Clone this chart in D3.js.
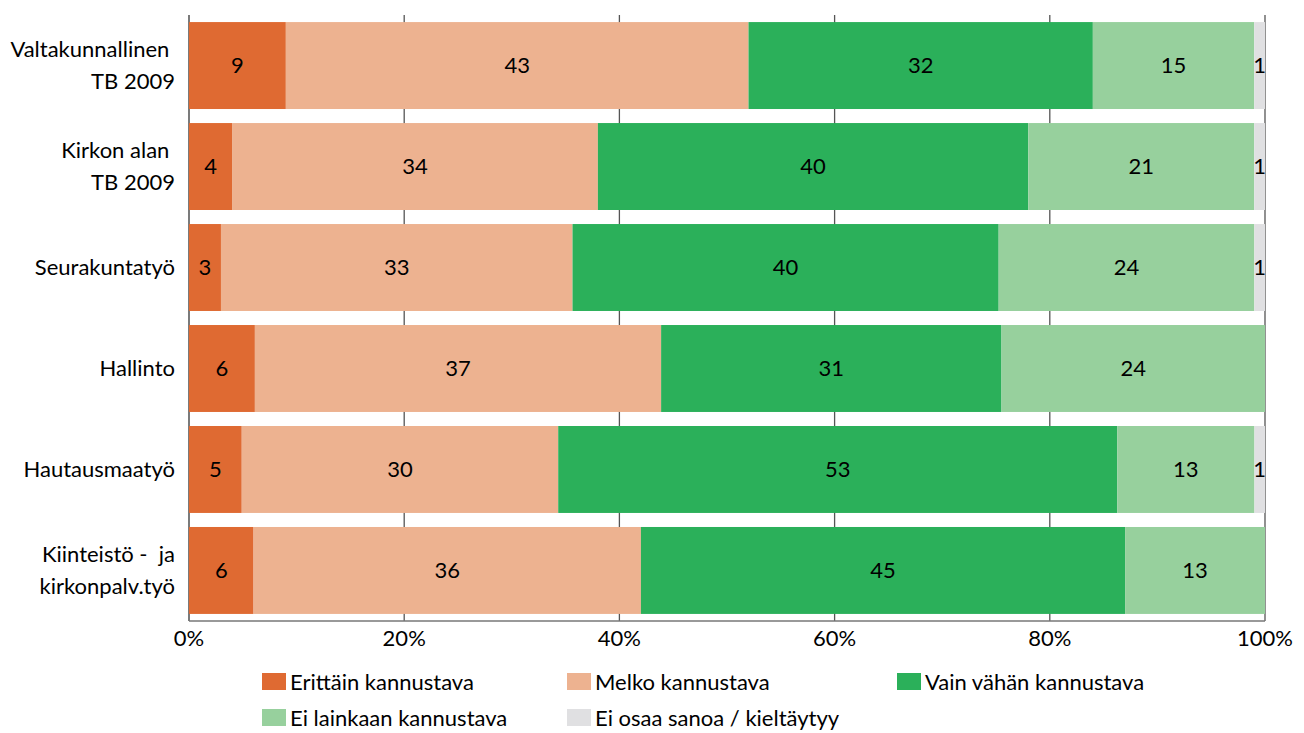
<!DOCTYPE html>
<html>
<head>
<meta charset="utf-8">
<script src="https://cdnjs.cloudflare.com/ajax/libs/d3/7.8.5/d3.min.js"></script>
<style>
  body { margin: 0; background: #fff; }
  text { font-family: Lato, "Noto Sans", sans-serif; fill: #000; }
</style>
</head>
<body>
<div id="chart"></div>
<script>
// data
var categories = ["Valtakunnallinen |TB 2009", "Kirkon alan |TB 2009", "Seurakuntatyö", "Hallinto", "Hautausmaatyö", "Kiinteistö -  ja|kirkonpalv.työ"];
var seriesNames = ["Erittäin kannustava", "Melko kannustava", "Vain vähän kannustava", "Ei lainkaan kannustava", "Ei osaa sanoa / kieltäytyy"];
var erittain = [9, 4, 3, 6, 5, 6];
var melko = [43, 34, 33, 37, 30, 36];
var vainVahan = [32, 40, 40, 31, 53, 45];
var eiLainkaan = [15, 21, 24, 24, 13, 13];
var eiOsaa = [1, 1, 1, 0, 1, 0];
var ticks = [0, 0.2, 0.4, 0.6, 0.8, 1];

var colors = ["#df6a32", "#edb290", "#2bb05a", "#97d09d", "#e0e0e2"];

var width = 1304, height = 733;
var margin = {top: 15, right: 39, bottom: 112, left: 189};
var fontSize = "22px";

var svg = d3.select("#chart")
  .append("svg")
  .attr("width", width)
  .attr("height", height);

var keys = ["e", "m", "v", "l", "o"];
var rows = categories.map(function(c, i) {
  return {cat: c, e: erittain[i], m: melko[i], v: vainVahan[i], l: eiLainkaan[i], o: eiOsaa[i]};
});

// 100% stacked
var stack = d3.stack().keys(keys).offset(d3.stackOffsetExpand);
var layers = stack(rows);

var x = d3.scaleLinear()
  .domain([0, 1])
  .range([margin.left, width - margin.right]);

var y = d3.scaleBand()
  .domain(categories)
  .range([margin.top, height - margin.bottom])
  .paddingInner(0.139)
  .paddingOuter(0.07);

// grid lines
svg.append("g")
  .selectAll("line")
  .data(ticks)
  .enter()
  .append("line")
  .attr("x1", function(d) { return x(d); })
  .attr("x2", function(d) { return x(d); })
  .attr("y1", margin.top)
  .attr("y2", height - margin.bottom)
  .attr("stroke", function(d) { return d == 0 ? "#333" : "#555"; })
  .attr("stroke-width", 1.3);

// bars
var layer = svg.selectAll(".layer")
  .data(layers)
  .enter()
  .append("g")
  .attr("class", "layer")
  .attr("fill", function(d, i) { return colors[i]; });

layer.selectAll("rect")
  .data(function(d) { return d; })
  .enter()
  .append("rect")
  .attr("x", function(d) { return x(d[0]); })
  .attr("y", function(d) { return y(d.data.cat); })
  .attr("width", function(d) { return x(d[1]) - x(d[0]); })
  .attr("height", y.bandwidth());

// value labels
layer.selectAll("text")
  .data(function(d) {
    var k = d.key;
    return d.filter(function(p) { return p.data[k] > 0; })
      .map(function(p) { return {p: p, v: p.data[k]}; });
  })
  .enter()
  .append("text")
  .attr("x", function(d) { return (x(d.p[0]) + x(d.p[1])) / 2; })
  .attr("y", function(d) { return y(d.p.data.cat) + y.bandwidth() / 2; })
  .attr("dy", "0.35em")
  .attr("text-anchor", "middle")
  .style("font-size", fontSize)
  .text(function(d) { return d.v; });

// x axis line
svg.append("line")
  .attr("x1", x(0))
  .attr("x2", x(1))
  .attr("y1", height - margin.bottom)
  .attr("y2", height - margin.bottom)
  .attr("stroke", "#777")
  .attr("stroke-width", 1.3);

// tick labels
svg.append("g")
  .selectAll("text")
  .data(ticks)
  .enter()
  .append("text")
  .attr("x", function(d) { return x(d); })
  .attr("y", height - margin.bottom + 25)
  .attr("text-anchor", "middle")
  .style("font-size", fontSize)
  .text(function(d) { return d3.format(".0%")(d); });

// category labels
var catLabels = svg.append("g")
  .selectAll("text")
  .data(categories)
  .enter()
  .append("text")
  .attr("text-anchor", "end")
  .style("font-size", fontSize)
  .style("white-space", "pre")
  .attr("y", function(d) { return y(d) + y.bandwidth() / 2; });

catLabels.each(function(d) {
  var lines = d.split("|");
  var t = d3.select(this);
  lines.forEach(function(line, i) {
    t.append("tspan")
      .attr("x", 175)
      .attr("dy", i == 0 ? (0.35 - (lines.length - 1) * 0.72) + "em" : "1.44em")
      .text(line);
  });
});

// legend
var legendPos = [[262, 682], [567, 682], [897, 682], [262, 718], [567, 718]];
var legend = svg.append("g")
  .selectAll("g")
  .data(seriesNames)
  .enter()
  .append("g")
  .attr("transform", function(d, i) { return "translate(" + legendPos[i][0] + "," + legendPos[i][1] + ")"; });

legend.append("rect")
  .attr("x", 0)
  .attr("y", -9)
  .attr("width", 24)
  .attr("height", 17)
  .attr("fill", function(d, i) { return colors[i]; });

legend.append("text")
  .attr("x", 28)
  .attr("y", 0)
  .attr("dy", "0.35em")
  .style("font-size", fontSize)
  .text(function(d) { return d; });
</script>
</body>
</html>
